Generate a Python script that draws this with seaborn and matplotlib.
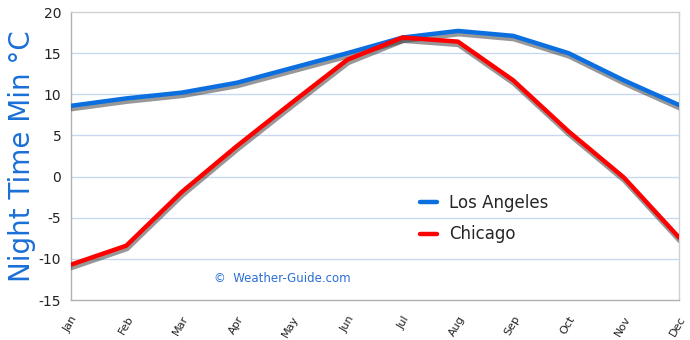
import matplotlib
matplotlib.use("Agg")
import matplotlib.pyplot as plt
import matplotlib.patheffects as pe
import seaborn as sns
import pandas as pd
from matplotlib.lines import Line2D

months = ["Jan", "Feb", "Mar", "Apr", "May", "Jun", "Jul", "Aug", "Sep", "Oct", "Nov", "Dec"]
los_angeles = [8.6, 9.5, 10.2, 11.4, 13.2, 15.0, 16.9, 17.7, 17.1, 15.0, 11.7, 8.7]
chicago = [-10.7, -8.4, -1.9, 3.7, 9.0, 14.2, 16.9, 16.4, 11.7, 5.5, -0.1, -7.4]
series_names = ["Los Angeles", "Chicago"]
y_ticks = [-15, -10, -5, 0, 5, 10, 15, 20]

df = pd.DataFrame({
    "month": months * 2,
    "idx": list(range(12)) * 2,
    "temp": los_angeles + chicago,
    "city": [series_names[0]] * 12 + [series_names[1]] * 12,
})

sns.set_style("white")
plt.rcParams["font.family"] = ["DejaVu Sans"]

fig = plt.figure(figsize=(6.9, 3.4), dpi=100)
ax = fig.add_axes([71 / 690, 40 / 340, 608 / 690, 288 / 340])

palette = {"Los Angeles": "#0b6fe0", "Chicago": "#ff0000"}
sns.lineplot(data=df, x="idx", y="temp", hue="city", palette=palette, ax=ax,
             linewidth=3.2, legend=False, solid_joinstyle="round", solid_capstyle="round")
for line in ax.lines:
    line.set_path_effects([
        pe.SimpleLineShadow(offset=(0.5, -2.0), shadow_color="#333333", alpha=0.5, linewidth=4.0),
        pe.Normal(),
    ])
    line.set_zorder(3)

ax.set_xlim(0, 11)
ax.set_ylim(-15, 20)
ax.set_yticks(y_ticks)
ax.set_yticklabels([str(t) for t in y_ticks], fontsize=10, color="#222222")
ax.set_xticks(range(12))
ax.set_xticklabels(months, rotation=60, fontsize=8, color="#222222")
for lbl in ax.get_xticklabels():
    lbl.set_rotation_mode("anchor")
    lbl.set_ha("right")
    lbl.set_va("top")
ax.tick_params(axis="both", length=4, width=1, color="#aaaaaa", direction="out", pad=3)
ax.tick_params(axis="x", pad=6)

for y in y_ticks[1:-1]:
    ax.axhline(y, color="#c8d8ee", linewidth=1, zorder=1)

for side in ["left", "bottom", "top", "right"]:
    ax.spines[side].set_visible(True)
    ax.spines[side].set_color("#b0b0b0")
    ax.spines[side].set_linewidth(1)
ax.spines["top"].set_color("#d0d0d0")
ax.spines["right"].set_color("#d0d0d0")

ax.set_xlabel("")
ax.set_ylabel("Night Time Min °C", fontsize=20, color="#1a6fd8", labelpad=2)

handles = [Line2D([0], [0], color=palette[n], linewidth=3.2) for n in series_names]
ax.legend(handles, series_names, loc="upper left", bbox_to_anchor=(0.55, 0.42),
          frameon=False, fontsize=12, handlelength=1.0, handletextpad=0.7,
          labelspacing=0.8)

ax.text(0.235, 0.075, "©  Weather-Guide.com", transform=ax.transAxes, fontsize=8.5,
        color="#2a6fd6", ha="left", va="center")

fig.savefig("out.png", dpi=100)
